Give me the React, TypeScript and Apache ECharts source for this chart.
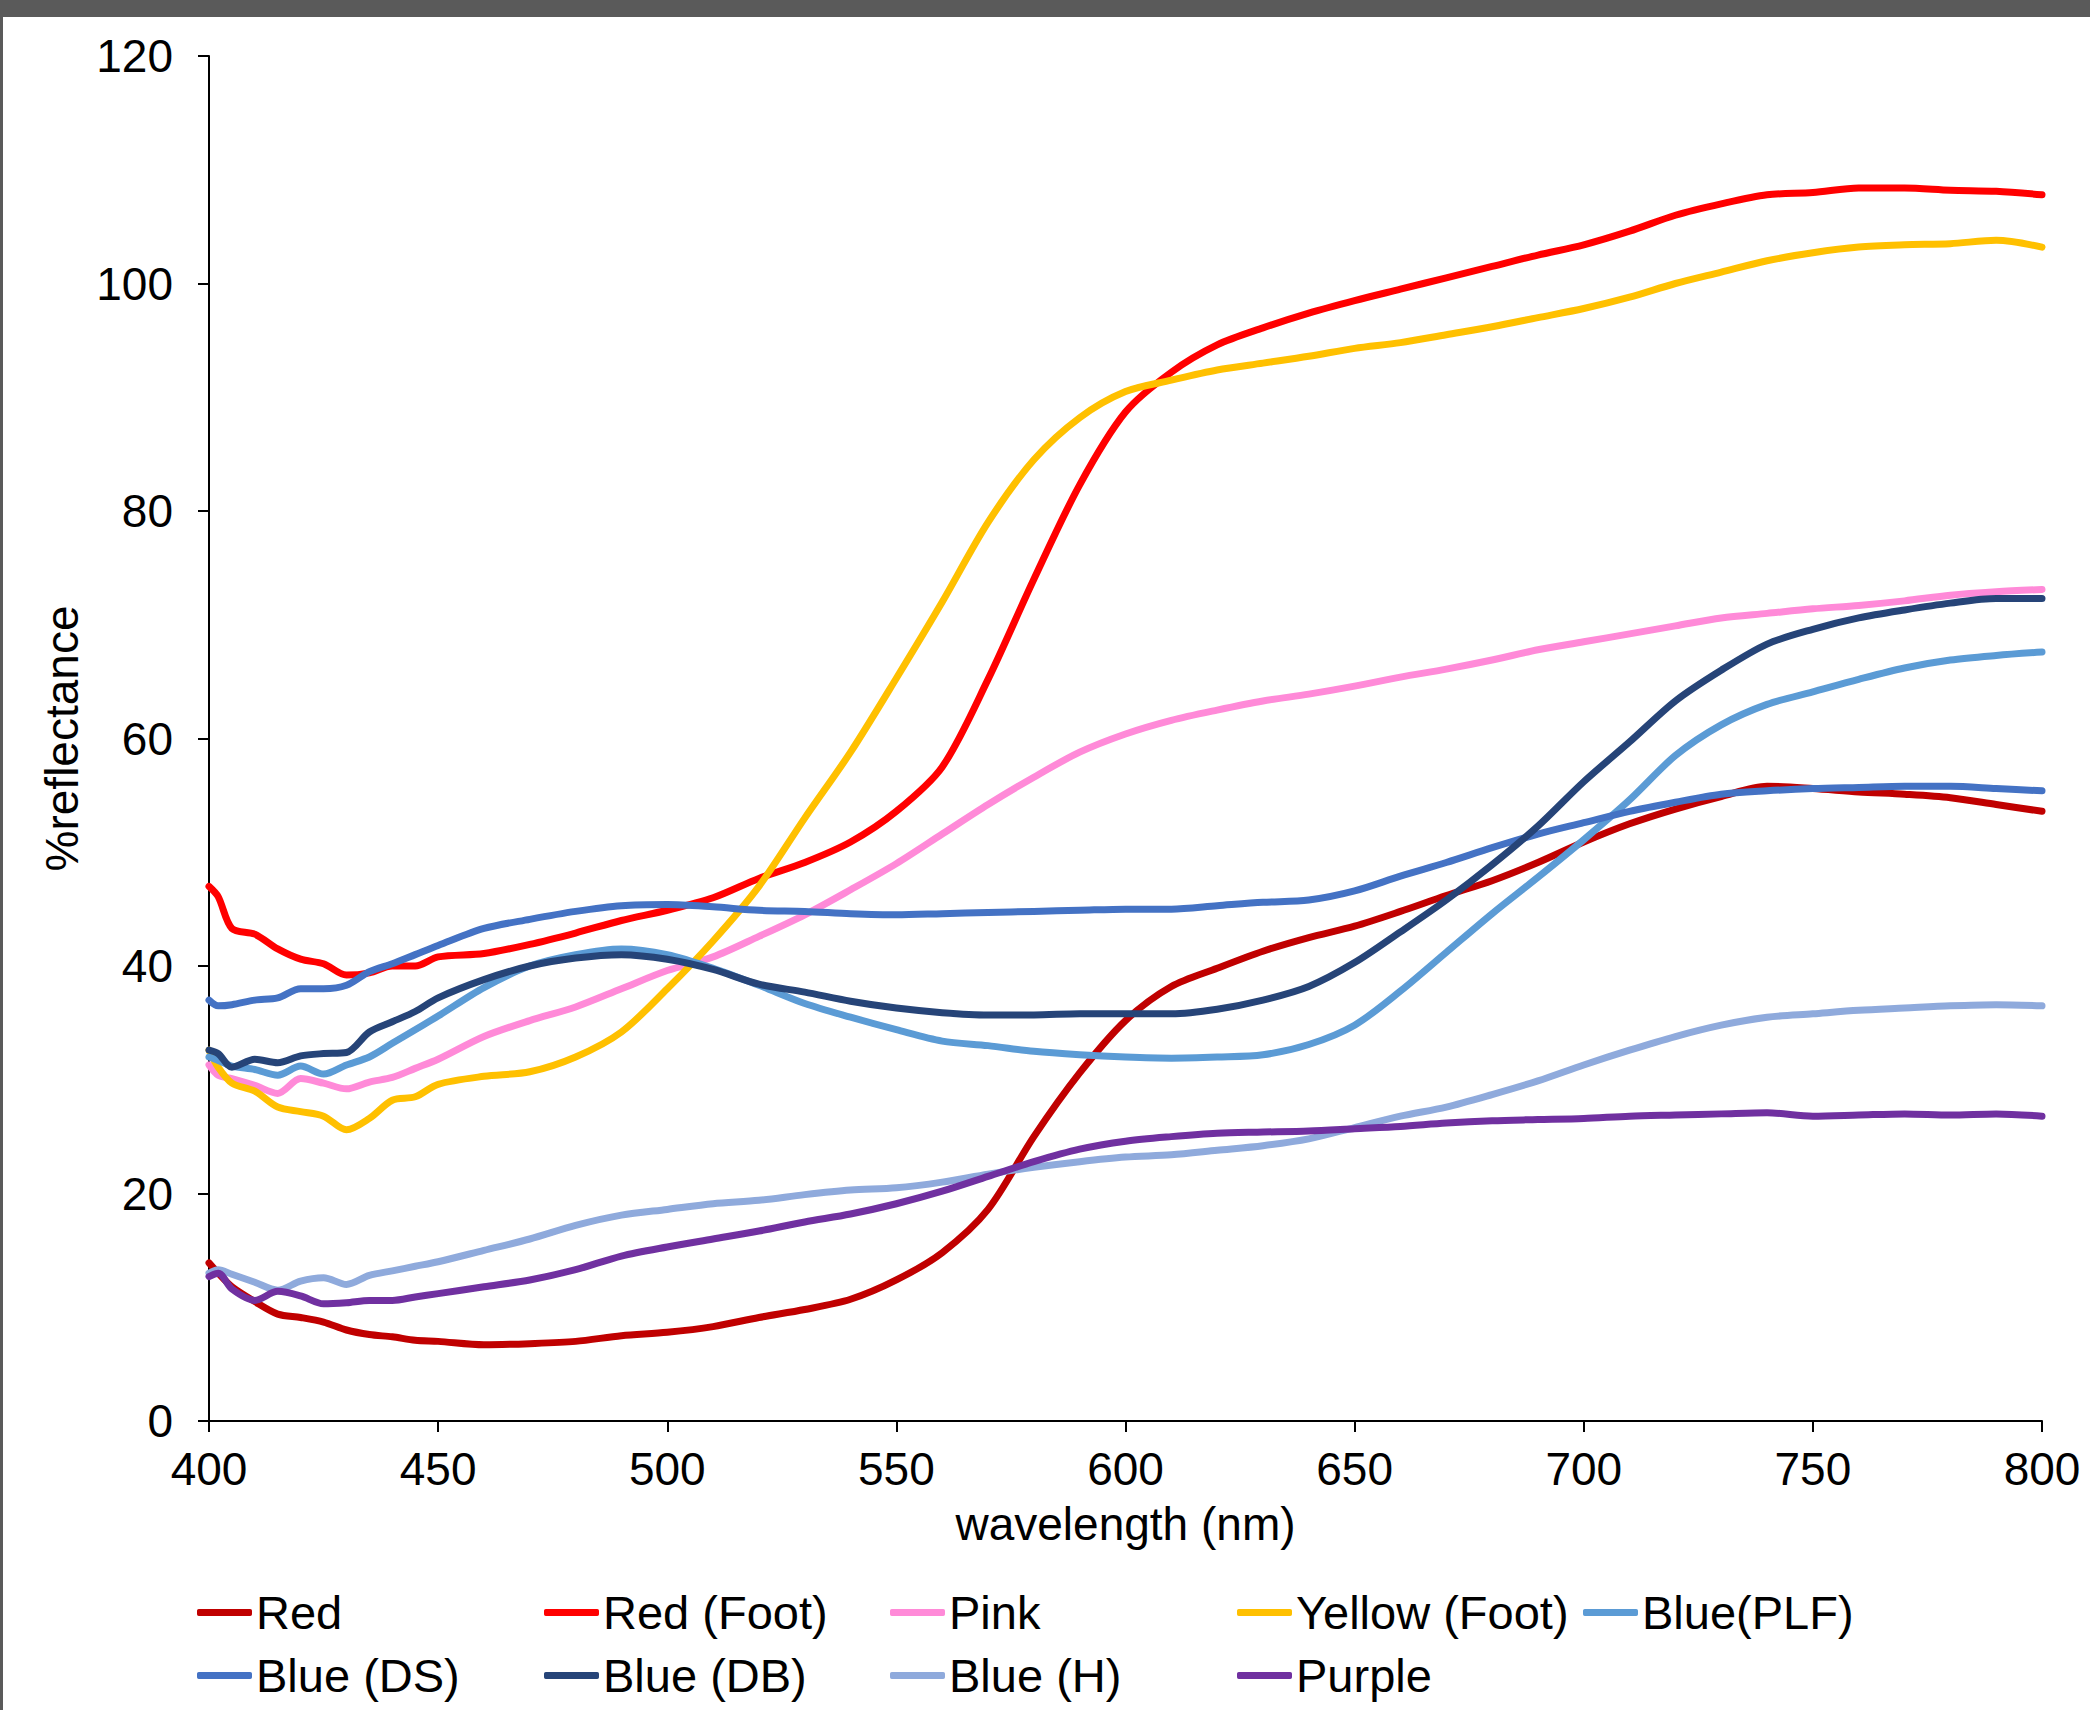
import React, { useEffect, useRef } from "react";
import * as echarts from "echarts";

const WL = [400, 402, 405, 410, 415, 420, 425, 430, 435, 440, 445, 450, 460, 470, 480, 490, 500, 510, 520, 530, 540, 550, 560, 570, 580, 590, 600, 610, 620, 630, 640, 650, 660, 670, 680, 690, 700, 710, 720, 730, 740, 750, 760, 770, 780, 790, 800];

const red = [13.9, 13.0, 11.8, 10.5, 9.4, 9.1, 8.7, 8.0, 7.6, 7.4, 7.1, 7.0, 6.7, 6.8, 7.0, 7.5, 7.8, 8.3, 9.1, 9.8, 10.7, 12.4, 14.8, 18.6, 25.0, 30.6, 35.2, 38.2, 39.8, 41.3, 42.5, 43.5, 44.8, 46.2, 47.5, 49.1, 50.9, 52.5, 53.8, 54.9, 55.8, 55.6, 55.3, 55.1, 54.8, 54.2, 53.6];
const redFoot = [47.0, 46.1, 43.3, 42.8, 41.5, 40.6, 40.2, 39.2, 39.4, 40.0, 40.0, 40.8, 41.1, 41.9, 42.9, 44.0, 44.9, 46.0, 47.7, 49.1, 50.9, 53.6, 57.5, 65.2, 74.0, 82.3, 88.7, 92.2, 94.6, 96.1, 97.4, 98.5, 99.5, 100.5, 101.5, 102.5, 103.4, 104.6, 106.0, 107.0, 107.8, 108.0, 108.4, 108.4, 108.2, 108.1, 107.8];
const pink = [31.3, 30.4, 30.1, 29.5, 28.8, 30.1, 29.7, 29.2, 29.8, 30.2, 31.0, 31.8, 33.8, 35.2, 36.4, 38.0, 39.6, 40.8, 42.6, 44.5, 46.7, 49.0, 51.6, 54.2, 56.6, 58.8, 60.4, 61.6, 62.5, 63.3, 63.9, 64.6, 65.4, 66.1, 66.9, 67.8, 68.5, 69.2, 69.9, 70.6, 71.0, 71.4, 71.7, 72.1, 72.6, 72.9, 73.1];
const yellowFoot = [32.6, 31.1, 29.7, 29.0, 27.6, 27.2, 26.8, 25.6, 26.6, 28.2, 28.5, 29.6, 30.3, 30.7, 32.0, 34.2, 38.0, 42.2, 47.0, 53.0, 58.8, 65.3, 72.0, 79.0, 84.5, 88.2, 90.5, 91.5, 92.4, 93.0, 93.6, 94.3, 94.8, 95.5, 96.2, 97.0, 97.8, 98.8, 100.0, 101.0, 102.0, 102.7, 103.2, 103.4, 103.5, 103.8, 103.2];
const bluePLF = [32.0, 31.7, 31.2, 30.9, 30.4, 31.2, 30.5, 31.3, 32.0, 33.2, 34.4, 35.6, 38.1, 40.0, 41.0, 41.5, 41.0, 39.8, 38.3, 36.7, 35.5, 34.4, 33.4, 33.0, 32.5, 32.2, 32.0, 31.9, 32.0, 32.2, 33.1, 34.8, 37.8, 41.2, 44.6, 47.8, 51.1, 54.6, 58.5, 61.2, 63.0, 64.1, 65.2, 66.2, 66.9, 67.3, 67.6];
const blueDS = [37.0, 36.5, 36.6, 37.0, 37.2, 38.0, 38.0, 38.3, 39.5, 40.2, 41.0, 41.8, 43.3, 44.1, 44.8, 45.3, 45.4, 45.2, 44.9, 44.8, 44.6, 44.5, 44.6, 44.7, 44.8, 44.9, 45.0, 45.0, 45.3, 45.6, 45.8, 46.6, 47.9, 49.1, 50.4, 51.6, 52.6, 53.6, 54.4, 55.1, 55.4, 55.6, 55.7, 55.8, 55.8, 55.6, 55.4];
const blueDB = [32.6, 32.3, 31.1, 31.8, 31.5, 32.1, 32.3, 32.4, 34.2, 35.1, 36.0, 37.2, 38.8, 40.0, 40.7, 41.0, 40.6, 39.7, 38.4, 37.7, 36.9, 36.3, 35.9, 35.7, 35.7, 35.8, 35.8, 35.8, 36.2, 37.0, 38.2, 40.3, 43.0, 45.8, 48.9, 52.3, 56.2, 59.7, 63.3, 66.0, 68.3, 69.6, 70.6, 71.3, 71.9, 72.3, 72.3];
const blueH = [13.0, 13.3, 12.9, 12.2, 11.5, 12.3, 12.6, 12.0, 12.8, 13.2, 13.6, 14.0, 15.0, 16.0, 17.2, 18.1, 18.6, 19.1, 19.4, 19.9, 20.3, 20.5, 21.0, 21.7, 22.3, 22.8, 23.2, 23.4, 23.8, 24.2, 24.8, 25.8, 26.8, 27.6, 28.7, 29.9, 31.3, 32.6, 33.8, 34.8, 35.5, 35.8, 36.1, 36.3, 36.5, 36.6, 36.5];
const purple = [12.7, 13.0, 11.6, 10.6, 11.4, 11.0, 10.3, 10.4, 10.6, 10.6, 10.9, 11.2, 11.8, 12.4, 13.3, 14.5, 15.3, 16.0, 16.7, 17.5, 18.2, 19.1, 20.2, 21.5, 22.8, 23.9, 24.6, 25.0, 25.3, 25.4, 25.5, 25.7, 25.9, 26.2, 26.4, 26.5, 26.6, 26.8, 26.9, 27.0, 27.1, 26.8, 26.9, 27.0, 26.9, 27.0, 26.8];

const SERIES_NAMES = ["Red", "Red (Foot)", "Pink", "Yellow (Foot)", "Blue(PLF)", "Blue (DS)", "Blue (DB)", "Blue (H)", "Purple"];
const SERIES_VALUES = [red, redFoot, pink, yellowFoot, bluePLF, blueDS, blueDB, blueH, purple];
const SERIES_COLORS = ["#C00000", "#FF0000", "#FF8AD8", "#FFC000", "#5B9BD5", "#4472C4", "#264478", "#8FAADC", "#7030A0"];

const X_TICKS = [400, 450, 500, 550, 600, 650, 700, 750, 800];
const Y_TICKS = [0, 20, 40, 60, 80, 100, 120];

const FONT = "'Liberation Sans', Arial, Helvetica, sans-serif";

export default function App() {
  const ref = useRef<HTMLDivElement>(null);

  useEffect(() => {
    document.body.style.margin = "0";
    if (!ref.current) return;
    const chart = echarts.init(ref.current, undefined, { renderer: "svg" });

    const legendX = [197, 544, 890, 1237, 1583];
    const legendRowY = [1615, 1678];
    const legends = SERIES_NAMES.map((name, i) => ({
      data: [name],
      left: legendX[i % 5],
      top: legendRowY[Math.floor(i / 5)] - 26,
      icon: "roundRect",
      itemWidth: 55,
      itemHeight: 7,
      itemGap: 0,
      padding: 0,
      selectedMode: false,
      textStyle: { fontSize: 47, color: "#000", fontFamily: FONT, padding: [0, 0, 0, -1] },
    }));

    chart.setOption({
      animation: false,
      backgroundColor: "#ffffff",
      textStyle: { fontFamily: FONT },
      graphic: [
        { type: "rect", shape: { x: 0, y: 0, width: 2090, height: 17 }, style: { fill: "#5a5a5a" }, silent: true },
        { type: "rect", shape: { x: 0, y: 0, width: 3, height: 1710 }, style: { fill: "#5a5a5a" }, silent: true },
      ],
      legend: legends,
      grid: { left: 209, right: 48, top: 56, bottom: 289, containLabel: false },
      xAxis: {
        type: "value",
        min: X_TICKS[0],
        max: X_TICKS[X_TICKS.length - 1],
        interval: 50,
        name: "wavelength (nm)",
        nameLocation: "middle",
        nameGap: 80,
        nameTextStyle: { fontSize: 46, color: "#000", fontFamily: FONT },
        axisLine: { lineStyle: { color: "#000", width: 2 } },
        axisTick: { show: true, length: 11, inside: false, lineStyle: { color: "#000", width: 2 } },
        axisLabel: { fontSize: 46, color: "#000", margin: 25, fontFamily: FONT },
        splitLine: { show: false },
      },
      yAxis: {
        type: "value",
        min: Y_TICKS[0],
        max: Y_TICKS[Y_TICKS.length - 1],
        interval: 20,
        name: "%reflectance",
        nameLocation: "middle",
        nameGap: 124,
        nameTextStyle: { fontSize: 46, color: "#000", fontFamily: FONT },
        axisLine: { show: true, lineStyle: { color: "#000", width: 2 } },
        axisTick: { show: true, length: 11, inside: false, lineStyle: { color: "#000", width: 2 } },
        axisLabel: { fontSize: 46, color: "#000", margin: 36, fontFamily: FONT },
        splitLine: { show: false },
      },
      series: SERIES_NAMES.map((name, i) => ({
        name,
        type: "line",
        data: WL.map((w, j) => [w, SERIES_VALUES[i][j]]),
        showSymbol: false,
        symbol: "none",
        smooth: 0.3,
        color: SERIES_COLORS[i],
        lineStyle: { width: 7, color: SERIES_COLORS[i], cap: "round", join: "round" },
      })),
    });

    return () => chart.dispose();
  }, []);

  return <div ref={ref} style={{ width: 2090, height: 1710 }} />;
}
